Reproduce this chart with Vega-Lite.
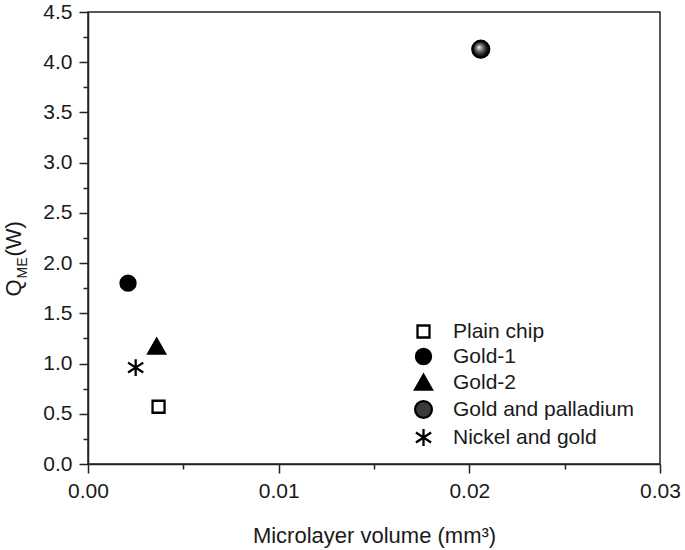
{
  "$schema": "https://vega.github.io/schema/vega-lite/v6.json",
  "width": 572,
  "height": 452,
  "autosize": {"type": "none"},
  "padding": {"left": 88, "top": 12, "right": 25, "bottom": 86},
  "background": "white",
  "config": {
    "view": {"stroke": "#222222", "strokeWidth": 1.5},
    "font": "Liberation Sans",
    "axis": {
      "grid": false,
      "labelFlush": false,
      "labelOverlap": false,
      "domainColor": "#222222",
      "domainWidth": 1.5,
      "tickColor": "#222222",
      "tickWidth": 1.5,
      "labelColor": "#1a1a1a",
      "titleColor": "#1a1a1a",
      "labelFont": "Liberation Sans",
      "titleFont": "Liberation Sans",
      "labelFontSize": 21,
      "titleFontSize": 22,
      "titleFontWeight": "normal"
    },
    "legend": {"labelLimit": 400}
  },
  "data": {
    "values": [
      {"sample": "Plain chip", "volume": 0.0037, "q": 0.57},
      {"sample": "Gold-1", "volume": 0.0021, "q": 1.80},
      {"sample": "Gold-2", "volume": 0.0036, "q": 1.17},
      {"sample": "Gold and palladium", "volume": 0.0206, "q": 4.13},
      {"sample": "Nickel and gold", "volume": 0.0025, "q": 0.96}
    ]
  },
  "layer": [
    {
      "mark": {"type": "point", "filled": true, "opacity": 1, "strokeWidth": 2.3, "size": 256},
      "encoding": {
        "x": {
          "field": "volume", "type": "quantitative",
          "scale": {"domain": [0, 0.03], "nice": false, "zero": false},
          "axis": {"orient": "bottom", "values": [0, 0.01, 0.02, 0.03], "format": ".2f", "tickSize": 9, "labelPadding": 7,
                   "title": "Microlayer volume (mm³)", "titleY": 78, "titleBaseline": "alphabetic"}
        },
        "y": {
          "field": "q", "type": "quantitative",
          "scale": {"domain": [0, 4.5], "nice": false, "zero": false},
          "axis": {"orient": "left", "values": [0, 0.5, 1, 1.5, 2, 2.5, 3, 3.5, 4, 4.5], "format": ".1f", "tickSize": 9, "labelPadding": 7,
                   "title": "Q", "titleAngle": 270, "titleAlign": "left", "titleBaseline": "alphabetic", "titleX": -68, "titleY": 284, "titleFontSize": 22}
        },
        "shape": {
          "field": "sample", "type": "nominal",
          "scale": {
            "domain": ["Plain chip", "Gold-1", "Gold-2", "Gold and palladium", "Nickel and gold"],
            "range": [
              "M-0.75,-0.75H0.75V0.75H-0.75Z",
              "M0.94,0A0.94,0.94,0,1,1,-0.94,0A0.94,0.94,0,1,1,0.94,0Z",
              "M0,-0.95L1.05,0.9L-1.05,0.9Z",
              "M1.05,0A1.05,1.05,0,1,1,-1.05,0A1.05,1.05,0,1,1,1.05,0Z",
              "M0,-1.05V1.05M-0.95,-0.62L0.95,0.62M-0.95,0.62L0.95,-0.62"
            ]
          },
          "legend": {"title": null, "orient": "none", "legendX": 325, "legendY": 309, "labelFontSize": 21, "labelFont": "Liberation Sans", "labelColor": "#1a1a1a", "labelOffset": 19, "rowPadding": 1, "symbolSize": 256, "symbolStrokeWidth": 2.3, "padding": 0, "labelLimit": 400}
        },
        "fill": {
          "field": "sample", "type": "nominal",
          "scale": {
            "domain": ["Plain chip", "Gold-1", "Gold-2", "Gold and palladium", "Nickel and gold"],
            "range": ["white", "black", "black", "#3a3a3a", "transparent"]
          },
          "legend": {"title": null, "orient": "none", "legendX": 325, "legendY": 309, "labelFontSize": 21, "labelFont": "Liberation Sans", "labelColor": "#1a1a1a", "labelOffset": 19, "rowPadding": 1, "symbolSize": 256, "symbolStrokeWidth": 2.3, "padding": 0, "labelLimit": 400}
        },
        "stroke": {
          "field": "sample", "type": "nominal",
          "scale": {
            "domain": ["Plain chip", "Gold-1", "Gold-2", "Gold and palladium", "Nickel and gold"],
            "range": ["black", "black", "black", "black", "black"]
          },
          "legend": {"title": null, "orient": "none", "legendX": 325, "legendY": 309, "labelFontSize": 21, "labelFont": "Liberation Sans", "labelColor": "#1a1a1a", "labelOffset": 19, "rowPadding": 1, "symbolSize": 256, "symbolStrokeWidth": 2.3, "padding": 0, "labelLimit": 400}
        }
      }
    },
    {
      "transform": [{"filter": "datum.sample === 'Gold and palladium'"}],
      "mark": {"type": "point", "filled": true, "opacity": 1, "stroke": "black", "strokeWidth": 1.5, "size": 256,
               "shape": "M1.05,0A1.05,1.05,0,1,1,-1.05,0A1.05,1.05,0,1,1,1.05,0Z",
               "fill": {"gradient": "radial", "x1": 0.38, "y1": 0.38, "r1": 0, "x2": 0.5, "y2": 0.5, "r2": 0.55,
                        "stops": [{"offset": 0, "color": "#ffffff"}, {"offset": 0.3, "color": "#888888"}, {"offset": 0.7, "color": "#1a1a1a"}, {"offset": 1, "color": "#000000"}]}},
      "encoding": {
        "x": {"field": "volume", "type": "quantitative", "scale": {"domain": [0, 0.03], "nice": false, "zero": false}, "axis": null},
        "y": {"field": "q", "type": "quantitative", "scale": {"domain": [0, 4.5], "nice": false, "zero": false}, "axis": null}
      }
    },
    {
      "mark": {"type": "point", "opacity": 0},
      "encoding": {
        "x": {
          "field": "volume", "type": "quantitative",
          "scale": {"domain": [0, 0.03], "nice": false, "zero": false},
          "axis": {"orient": "bottom", "values": [0.005, 0.015, 0.025], "labels": false, "domain": false, "tickSize": 5, "title": null}
        },
        "y": {
          "field": "q", "type": "quantitative",
          "scale": {"domain": [0, 4.5], "nice": false, "zero": false},
          "axis": {"orient": "left", "values": [0.25, 0.75, 1.25, 1.75, 2.25, 2.75, 3.25, 3.75, 4.25], "labels": false, "domain": false, "tickSize": 5,
                   "title": "ME", "titleAngle": 270, "titleAlign": "left", "titleBaseline": "alphabetic", "titleX": -62, "titleY": 266, "titleFontSize": 14}
        }
      }
    },
    {
      "mark": {"type": "point", "opacity": 0},
      "encoding": {
        "x": {
          "field": "volume", "type": "quantitative",
          "scale": {"domain": [0, 0.03], "nice": false, "zero": false},
          "axis": null
        },
        "y": {
          "field": "q", "type": "quantitative",
          "scale": {"domain": [0, 4.5], "nice": false, "zero": false},
          "axis": {"orient": "left", "labels": false, "domain": false, "ticks": false,
                   "title": "(W)", "titleAngle": 270, "titleAlign": "left", "titleBaseline": "alphabetic", "titleX": -68, "titleY": 244, "titleFontSize": 22}
        }
      }
    }
  ],
  "resolve": {"axis": {"x": "independent", "y": "independent"}}
}
